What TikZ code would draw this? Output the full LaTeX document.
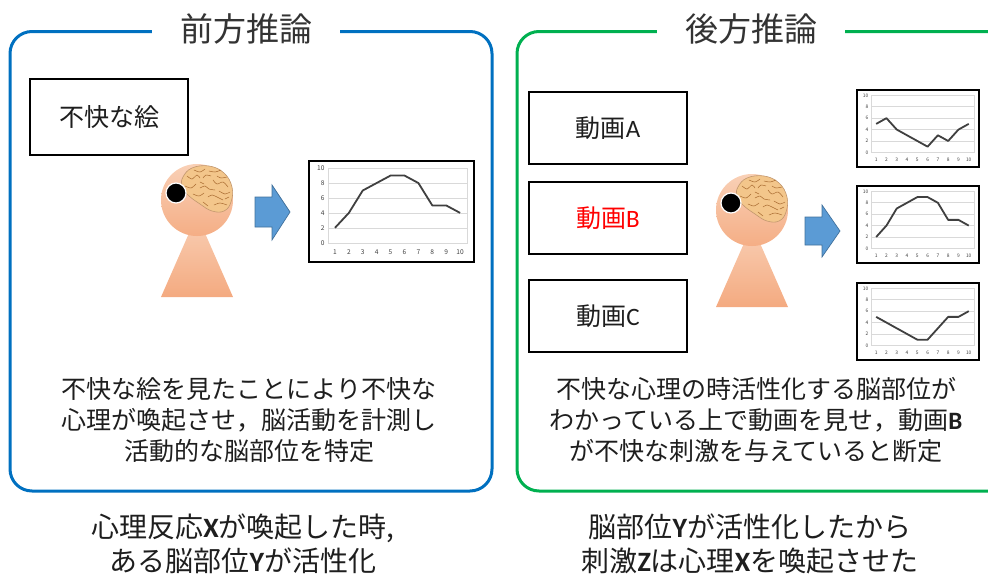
\documentclass[tikz,border=0pt]{standalone}
\usepackage{fontspec}
\setmainfont{Noto Sans CJK JP}
\newfontfamily\latinfont{Carlito}

\definecolor{frameblue}{HTML}{0070C0}
\definecolor{framegreen}{HTML}{00B050}
\definecolor{arrowfill}{HTML}{5B9BD5}
\definecolor{arrowline}{HTML}{41719C}
\definecolor{skintop}{HTML}{F9D0B6}
\definecolor{skinbot}{HTML}{F4AA80}
\definecolor{brainfill}{HTML}{F3C68B}
\definecolor{brainline}{HTML}{A86A30}
\definecolor{gridgray}{HTML}{D9D9D9}
\definecolor{plotline}{HTML}{404040}
\definecolor{inkgray}{HTML}{1E1E1E}
\definecolor{titlegray}{HTML}{333333}
\definecolor{alertred}{HTML}{FF0000}

% Latin letters set in a separate face
\newcommand\lat[1]{{\latinfont #1}}
\newcommand\latb[1]{{\latinfont\bfseries #1}}

% small line chart: name, top-left x, y, bottom-right x, y, ten values (0..10)
\newcommand\minichart[6]{%
  \begin{scope}
    \pgfmathsetmacro\mcW{#4-#2}
    \pgfmathsetmacro\mcH{#5-#3}
    \pgfmathsetmacro\mcL{#2+0.115*\mcW}
    \pgfmathsetmacro\mcR{#4-0.042*\mcW}
    \pgfmathsetmacro\mcT{#3+0.07*\mcH}
    \pgfmathsetmacro\mcB{#5-0.19*\mcH}
    \pgfmathsetmacro\mcF{0.04*\mcW}
    \pgfmathsetmacro\mcX{\mcB+0.5*(#5-\mcB)}
    \draw[chartframe] (#2,#3) rectangle (#4,#5);
    \foreach \g in {2,4,6,8}
      \draw[gridline] (\mcL,{\mcB-\g*(\mcB-\mcT)/10}) -- (\mcR,{\mcB-\g*(\mcB-\mcT)/10});
    \draw[gridline] (\mcL,\mcT) rectangle (\mcR,\mcB);
    \foreach \g in {0,2,...,10}
      \node[ticklabel, anchor=east] (#1-y\g) at ({\mcL-0.5*\mcF},{\mcB-\g*(\mcB-\mcT)/10})
        {\fontsize{\mcF}{\mcF}\selectfont\g};
    \foreach \i in {1,...,10}
      \node[ticklabel] (#1-x\i) at ({\mcL+(\i-0.5)*(\mcR-\mcL)/10},\mcX)
        {\fontsize{\mcF}{\mcF}\selectfont\i};
    \foreach \v [count=\i] in {#6}
      \coordinate (#1-p\i) at ({\mcL+(\i-0.5)*(\mcR-\mcL)/10},{\mcB-\v*(\mcB-\mcT)/10});
    \draw[dataline] (#1-p1) \foreach \i in {2,...,10}{ -- (#1-p\i)};
  \end{scope}}

\tikzset{
  frameline/.style={line width=3pt, rounded corners=22pt},
  titletext/.style={fill=white, inner xsep=28pt, inner ysep=2pt, text=titlegray,
    font=\fontsize{33}{33}\selectfont},
  stimbox/.style={draw=black, line width=2pt, minimum width=158pt, text=inkgray,
    font=\fontsize{25}{25}\selectfont},
  bodytext/.style={align=center, text=inkgray, inner sep=0pt,
    font=\fontsize{25}{31}\selectfont},
  sumtext/.style={align=center, text=inkgray, inner sep=0pt,
    font=\fontsize{28}{34}\selectfont},
  chartframe/.style={draw=black, line width=1.8pt, fill=white},
  gridline/.style={draw=gridgray, line width=0.6pt},
  ticklabel/.style={inner sep=0pt, text=plotline},
  dataline/.style={draw=plotline, line width=1.8pt, line join=round},
  blockarrow/.style={fill=arrowfill, draw=arrowline, line width=0.7pt},
  person/.pic={
    % body
    \shade[top color=skintop, bottom color=skinbot]
      (0,15) -- (-36,97) -- (36,97) -- cycle;
    % head
    \shade[top color=skintop, bottom color=skinbot!90!skintop] (0,0) circle (36);
    % brain
    \filldraw[fill=brainfill, draw=brainline!70, line width=0.6pt]
      plot[smooth cycle, tension=0.7] coordinates
      {(-14,-23) (-5,-32) (12,-34) (27,-27) (35,-13) (34,2) (27,11) (15,11) (3,4) (-9,-5) (-15,-14)};
    \begin{scope}[draw=brainline, line width=0.5pt, line cap=round]
      \draw plot[smooth] coordinates {(-10,-24) (-5,-21) (0,-25) (3,-22)};
      \draw plot[smooth] coordinates {(6,-22) (9,-25) (14,-24)};
      \draw plot[smooth] coordinates {(-3,-30) (3,-28) (8,-31)};
      \draw plot[smooth] coordinates {(12,-29) (18,-28) (24,-30)};
      \draw plot[smooth] coordinates {(-12,-14) (-6,-12) (-1,-16)};
      \draw plot[smooth] coordinates {(3,-12) (8,-14) (12,-11) (18,-10)};
      \draw plot[smooth] coordinates {(16,-20) (20,-16) (26,-18) (31,-13)};
      \draw plot[smooth] coordinates {(-4,-6) (2,-4) (7,-7)};
      \draw plot[smooth] coordinates {(11,-3) (15,-5) (20,-3) (26,0)};
      \draw plot[smooth] coordinates {(22,-9) (28,-6) (33,-8)};
      \draw plot[smooth] coordinates {(17,5) (23,3) (30,5)};
      \draw plot[smooth] coordinates {(6,2) (11,6)};
      \draw plot[smooth] coordinates {(20,-24) (24,-22) (30,-23)};
      \draw plot[smooth] coordinates {(3,-18) (7,-16)};
      \draw plot[smooth] coordinates {(28,-1) (32,-3)};
    \end{scope}
    % eye
    \filldraw[fill=black, draw=white, line width=1.2pt] (-21,-7) circle (10);
  }
}

\begin{document}
\begin{tikzpicture}[x=1pt, y=-1pt]
  \useasboundingbox (0,0) rectangle (988,581);
  \clip (0,0) rectangle (988,581);

  % ---------- forward inference ----------
  \draw[frameline, draw=frameblue] (10,31.5) rectangle (492,491);
  \node[titletext] (fwdtitle) at (246,29) {前方推論};

  \node[stimbox, minimum height=76pt] (picture) at (109,117) {不快な絵};

  \pic (fwdperson) at (197,200) {person};

  \coordinate (fwdarrow) at (255,212);
  \draw[blockarrow] (fwdarrow) ++(0,-15) -- ++(17,0) -- ++(0,-12) -- ++(18,27)
    -- ++(-18,28) -- ++(0,-13) -- ++(-17,0) -- cycle;

  \minichart{fwdchart}{309}{161}{474}{262}{2,4,7,8,9,9,8,5,5,4}

  \node[bodytext] (fwdtext) at (249,420)
    {不快な絵を見たことにより不快な\\心理が喚起させ，脳活動を計測し\\活動的な脳部位を特定};

  \node[sumtext] (fwdsum) at (243,544)
    {心理反応\latb{X}が喚起した時,\\ある脳部位\latb{Y}が活性化};

  % ---------- backward inference ----------
  \draw[frameline, draw=framegreen] (517,31.5) rectangle (1030,491);
  \node[titletext] (bwdtitle) at (751,29) {後方推論};

  \node[stimbox, minimum height=72pt] (videoA) at (608,128) {動画\lat{A}};
  \node[stimbox, minimum height=72pt, text=alertred] (videoB) at (608,218) {動画\lat{B}};
  \node[stimbox, minimum height=72pt] (videoC) at (608,316) {動画\lat{C}};

  \pic (bwdperson) at (752,210) {person};

  \coordinate (bwdarrow) at (805,231);
  \draw[blockarrow] (bwdarrow) ++(0,-14) -- ++(17,0) -- ++(0,-12) -- ++(18,26)
    -- ++(-18,26) -- ++(0,-12) -- ++(-17,0) -- cycle;

  \minichart{chartA}{857}{90}{979}{167}{5,6,4,3,2,1,3,2,4,5}
  \minichart{chartB}{857}{186}{979}{263}{2,4,7,8,9,9,8,5,5,4}
  \minichart{chartC}{857}{283}{979}{360}{5,4,3,2,1,1,3,5,5,6}

  \node[bodytext] (bwdtext) at (756,420)
    {不快な心理の時活性化する脳部位が\\わかっている上で動画を見せ，動画\latb{B}\\が不快な刺激を与えていると断定};

  \node[sumtext] (bwdsum) at (750,544)
    {脳部位\latb{Y}が活性化したから\\刺激\latb{Z}は心理\latb{X}を喚起させた};
\end{tikzpicture}
\end{document}
